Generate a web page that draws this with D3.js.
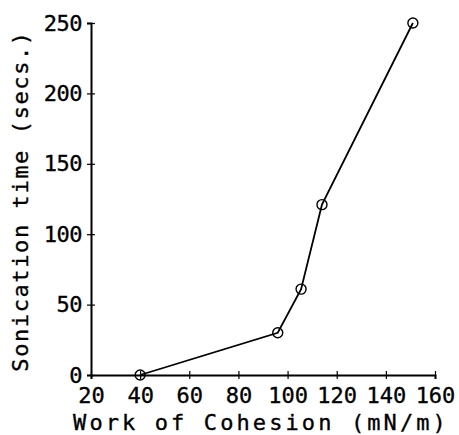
<!DOCTYPE html>
<html>
<head>
<meta charset="utf-8">
<script src="https://cdn.jsdelivr.net/npm/d3@7"></script>
<style>
  body { margin: 0; background: #fff; }
  text { font-family: "DejaVu Sans Mono", monospace; fill: #000; stroke: #000; stroke-width: 0.35px; }
</style>
</head>
<body>
<svg id="chart" width="459" height="435"></svg>
<script>
// data
var cohesion = [40, 96, 105.5, 114, 151];
var sonication = [0, 30, 61, 121, 250];
var xTicks = [20, 40, 60, 80, 100, 120, 140, 160];
var yTicks = [0, 50, 100, 150, 200, 250];

var margin = {top: 23, right: 24, bottom: 60, left: 91},
    width = 459 - margin.left - margin.right,
    height = 435 - margin.top - margin.bottom;

var svg = d3.select("#chart")
    .append("g")
    .attr("transform", "translate(" + margin.left + "," + margin.top + ")");

var x = d3.scaleLinear().domain([20, 160]).range([0, width]);
var y = d3.scaleLinear().domain([0, 250]).range([height, 0]);

// x axis
var xAxis = svg.append("g")
    .attr("transform", "translate(0," + height + ")")
    .call(d3.axisBottom(x).tickValues(xTicks).tickSize(4).tickPadding(6));
xAxis.select(".domain").attr("stroke-width", 2);
xAxis.selectAll(".tick line").attr("y1", -4).attr("y2", 4).attr("stroke-width", 1.2);
xAxis.selectAll(".tick text")
    .attr("font-size", "22px")
    .attr("font-family", "DejaVu Sans Mono")
    .attr("dy", "0.8em");

// y axis
var yAxis = svg.append("g")
    .call(d3.axisLeft(y).tickValues(yTicks).tickSize(4).tickPadding(5));
yAxis.select(".domain").attr("stroke-width", 2);
yAxis.selectAll(".tick line").attr("x1", -4).attr("x2", 4).attr("stroke-width", 1.2);
yAxis.selectAll(".tick text")
    .attr("font-size", "22px")
    .attr("font-family", "DejaVu Sans Mono")
    .attr("letter-spacing", "-0.5px");

// the line
var pts = cohesion.map(function(d, i) { return {x: d, y: sonication[i]}; });

svg.append("path")
    .datum(pts)
    .attr("fill", "none")
    .attr("stroke", "#000")
    .attr("stroke-width", 1.8)
    .attr("d", d3.line()
        .x(function(d) { return x(d.x); })
        .y(function(d) { return y(d.y); }));

svg.selectAll("circle")
    .data(pts)
    .enter()
    .append("circle")
    .attr("cx", function(d) { return x(d.x); })
    .attr("cy", function(d) { return y(d.y); })
    .attr("r", 5)
    .attr("fill", "none")
    .attr("stroke", "#000")
    .attr("stroke-width", 1.4);

// x axis label
d3.select("#chart").append("text")
    .attr("x", 261)
    .attr("y", 430)
    .attr("text-anchor", "middle")
    .attr("font-size", "22px")
    .attr("letter-spacing", "3.1px")
    .text("Work of Cohesion (mN/m)");

// y axis label
d3.select("#chart").append("text")
    .attr("transform", "translate(28,201) rotate(-90)")
    .attr("text-anchor", "middle")
    .attr("font-size", "22px")
    .attr("letter-spacing", "1.6px")
    .text("Sonication time (secs.)");
</script>
</body>
</html>
